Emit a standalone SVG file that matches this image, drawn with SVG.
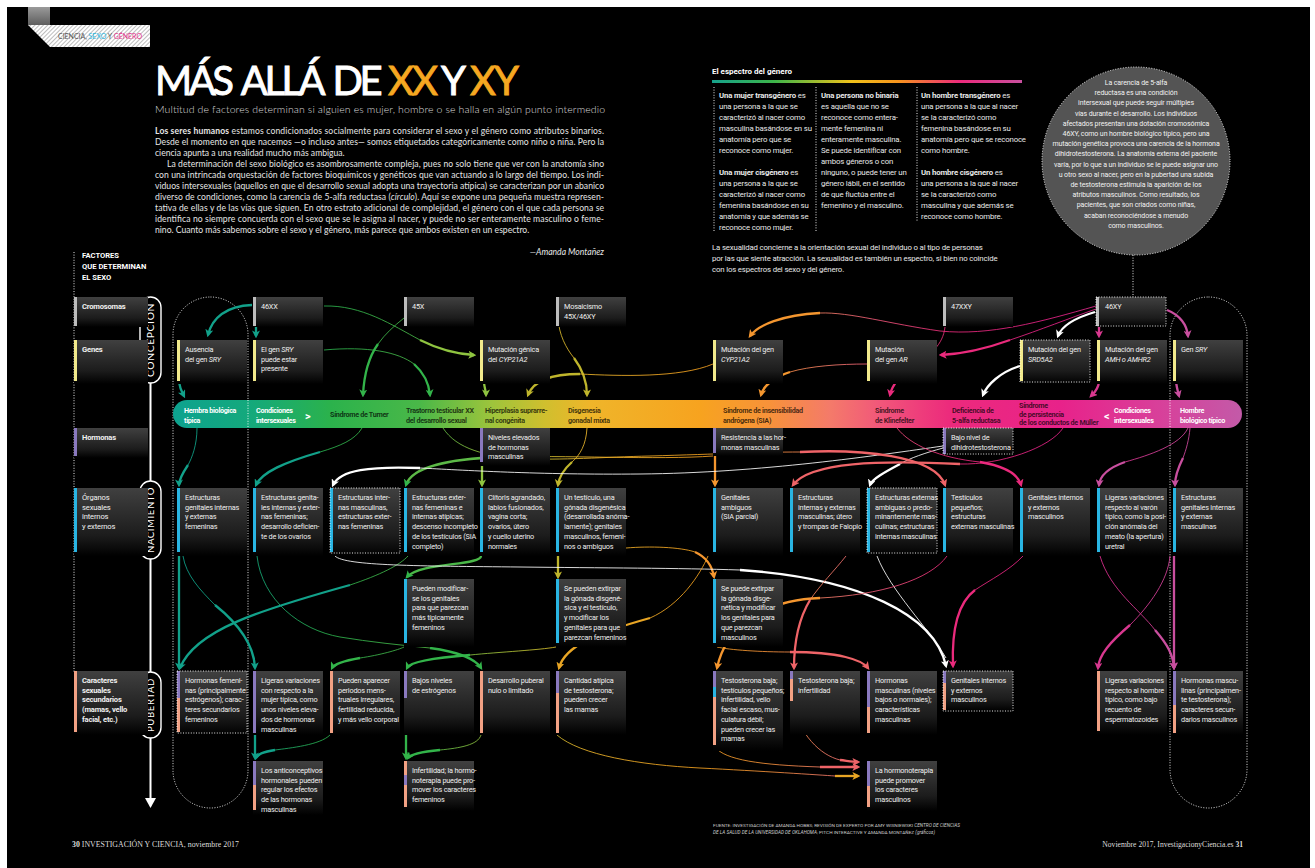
<svg xmlns="http://www.w3.org/2000/svg" width="1315" height="868" viewBox="0 0 1315 868">
<defs>
<style>
.bx{fill:url(#bx)}
.t{font-family:Roboto,"Liberation Sans",sans-serif;font-size:7.3px;fill:#eeeeee;letter-spacing:-0.2px}
.lb{font-family:Roboto,"Liberation Sans",sans-serif;font-size:7.6px;font-weight:700;fill:#f0f0f0;letter-spacing:-0.2px}
.lr{font-family:Roboto,"Liberation Sans",sans-serif;font-size:7.6px;font-weight:400;fill:#f0f0f0;letter-spacing:-0.15px}
.bt{font-family:Roboto,"Liberation Sans",sans-serif;font-size:7.2px;font-weight:700;letter-spacing:-0.3px;fill:#000;fill-opacity:0.72}
.bw{font-family:Roboto,"Liberation Sans",sans-serif;font-size:7.2px;font-weight:700;letter-spacing:-0.3px;fill:#fff}
.dot{fill:none;stroke:#fff;stroke-width:0.9;stroke-dasharray:1 1.6}
.body{font-family:Lato,"Open Sans",sans-serif;font-size:8.6px;fill:#e6e6e6}
.sp{font-family:Roboto,"Liberation Sans",sans-serif;font-size:7.8px;fill:#e8e8e8;letter-spacing:-0.15px}
.ci{font-family:Roboto,"Liberation Sans",sans-serif;font-size:7px;fill:#f2f2f2;letter-spacing:-0.1px;text-anchor:middle}
.th{fill:none;stroke:url(#spec);stroke-width:0.85}
.tw{fill:none;stroke:#ffffff;stroke-width:0.85}
.tk{fill:none;stroke-width:2.3}
.pill{fill:#000;stroke:#fff;stroke-width:1.4}
.pt{font-family:Lato,"Open Sans",sans-serif;font-size:9.5px;fill:#fff;letter-spacing:0.6px;text-anchor:middle}
.ttl{font-family:Lato,"Open Sans",sans-serif;font-size:40px;stroke-width:0.9;letter-spacing:-2px}
.ttl1{font-family:Lato,"Open Sans",sans-serif;font-size:40px;stroke-width:0.9;letter-spacing:-3.5px;word-spacing:5px}
.c-grey{fill:#bdbdbd}.c-yel{fill:#f2ea8c}.c-pur{fill:#8a79bf}.c-cy{fill:#29b5e3}.c-sal{fill:#f2a184}
</style>
<linearGradient id="bx" x1="0" y1="0" x2="0" y2="1"><stop offset="0" stop-color="#404040"/><stop offset="0.7" stop-color="#1c1c1c"/><stop offset="1" stop-color="#000"/></linearGradient>
<linearGradient id="spec" gradientUnits="userSpaceOnUse" x1="173" y1="0" x2="1242" y2="0">
<stop offset="0" stop-color="#0da28f"/><stop offset="0.072" stop-color="#14a97c"/><stop offset="0.147" stop-color="#2bb24c"/><stop offset="0.231" stop-color="#4ab848"/><stop offset="0.297" stop-color="#9cc43c"/><stop offset="0.348" stop-color="#d0bf2e"/><stop offset="0.39" stop-color="#efb52a"/><stop offset="0.493" stop-color="#f7a31f"/><stop offset="0.558" stop-color="#f7923a"/><stop offset="0.615" stop-color="#f47a6a"/><stop offset="0.661" stop-color="#f1577a"/><stop offset="0.727" stop-color="#ec2a7c"/><stop offset="0.83" stop-color="#e8228a"/><stop offset="0.923" stop-color="#d8409a"/><stop offset="1" stop-color="#c35aa8"/>
</linearGradient>
<linearGradient id="hdr" x1="0" y1="0" x2="1" y2="0"><stop offset="0" stop-color="#16a28c"/><stop offset="0.2" stop-color="#3db54a"/><stop offset="0.45" stop-color="#f0c21a"/><stop offset="0.6" stop-color="#f7941d"/><stop offset="0.8" stop-color="#ec2a7c"/><stop offset="1" stop-color="#c9509f"/></linearGradient>
<pattern id="hatch" width="3" height="3" patternUnits="userSpaceOnUse" patternTransform="rotate(45)"><rect width="3" height="3" fill="#ffffff"/><rect width="1" height="3" fill="#bdbdbd"/></pattern>
<linearGradient id="tab" x1="0" y1="0" x2="0" y2="1"><stop offset="0" stop-color="#9a9a9a"/><stop offset="1" stop-color="#5e5e5e"/></linearGradient>
<marker id="mT" viewBox="0 0 10 10" refX="7" refY="5" markerWidth="8" markerHeight="8" markerUnits="userSpaceOnUse" orient="auto"><path d="M0,0 L10,5 L0,10 L2.5,5 z" fill="#12a18a"/></marker>
<marker id="mG" viewBox="0 0 10 10" refX="7" refY="5" markerWidth="8" markerHeight="8" markerUnits="userSpaceOnUse" orient="auto"><path d="M0,0 L10,5 L0,10 L2.5,5 z" fill="#33b44a"/></marker>
<marker id="mL" viewBox="0 0 10 10" refX="7" refY="5" markerWidth="8" markerHeight="8" markerUnits="userSpaceOnUse" orient="auto"><path d="M0,0 L10,5 L0,10 L2.5,5 z" fill="#8fc440"/></marker>
<marker id="mO" viewBox="0 0 10 10" refX="7" refY="5" markerWidth="8" markerHeight="8" markerUnits="userSpaceOnUse" orient="auto"><path d="M0,0 L10,5 L0,10 L2.5,5 z" fill="#bfb52c"/></marker>
<marker id="mY" viewBox="0 0 10 10" refX="7" refY="5" markerWidth="8" markerHeight="8" markerUnits="userSpaceOnUse" orient="auto"><path d="M0,0 L10,5 L0,10 L2.5,5 z" fill="#e8a524"/></marker>
<marker id="mR" viewBox="0 0 10 10" refX="7" refY="5" markerWidth="8" markerHeight="8" markerUnits="userSpaceOnUse" orient="auto"><path d="M0,0 L10,5 L0,10 L2.5,5 z" fill="#f4962f"/></marker>
<marker id="mS" viewBox="0 0 10 10" refX="7" refY="5" markerWidth="8" markerHeight="8" markerUnits="userSpaceOnUse" orient="auto"><path d="M0,0 L10,5 L0,10 L2.5,5 z" fill="#ef6468"/></marker>
<marker id="mP" viewBox="0 0 10 10" refX="7" refY="5" markerWidth="8" markerHeight="8" markerUnits="userSpaceOnUse" orient="auto"><path d="M0,0 L10,5 L0,10 L2.5,5 z" fill="#ea2a7c"/></marker>
<marker id="mM" viewBox="0 0 10 10" refX="7" refY="5" markerWidth="8" markerHeight="8" markerUnits="userSpaceOnUse" orient="auto"><path d="M0,0 L10,5 L0,10 L2.5,5 z" fill="#d8388f"/></marker>
<marker id="mV" viewBox="0 0 10 10" refX="7" refY="5" markerWidth="8" markerHeight="8" markerUnits="userSpaceOnUse" orient="auto"><path d="M0,0 L10,5 L0,10 L2.5,5 z" fill="#c94f9f"/></marker>
<marker id="mW" viewBox="0 0 10 10" refX="7" refY="5" markerWidth="8" markerHeight="8" markerUnits="userSpaceOnUse" orient="auto"><path d="M0,0 L10,5 L0,10 L2.5,5 z" fill="#ffffff"/></marker>
</defs>

<rect width="1315" height="868" fill="#ffffff"/>
<rect x="7" y="7" width="1303" height="861" fill="#000000"/>

<g id="header-tag">
<rect x="28" y="7" width="22" height="18" fill="url(#tab)"/>
<polygon points="28,25 150,25 150,47 50,47" fill="url(#hatch)"/>
<text x="58" y="39" font-family="Lato,'Open Sans',sans-serif" font-size="6.6" fill="#555" textLength="84" lengthAdjust="spacingAndGlyphs">CIENCIA, <tspan fill="#29b6e0">SEXO</tspan> Y <tspan fill="#e6308a">GÉNERO</tspan></text>
</g>

<g id="title">
<text class="ttl1" x="155" y="95" fill="#fff" stroke="#fff">MÁS ALLÁ DE</text>
<text class="ttl" x="388" y="95" fill="#f6a821" stroke="#f6a821">XX</text>
<text class="ttl" x="441" y="95" fill="#fff" stroke="#fff">Y</text>
<text class="ttl" x="470" y="95" fill="#f6a821" stroke="#f6a821">XY</text>
<text x="155" y="113" font-family="Lato,'Open Sans',sans-serif" font-weight="300" font-size="10.5" fill="#dddddd" textLength="450" lengthAdjust="spacing">Multitud de factores determinan si alguien es mujer, hombre o se halla en algún punto intermedio</text>
</g>

<g id="intro">
<text class="body" x="155" y="134" textLength="449" lengthAdjust="spacing"><tspan font-weight="700">Los seres humanos</tspan> estamos condicionados socialmente para considerar el sexo y el género como atributos binarios.</text>
<text class="body" x="155" y="145" textLength="449" lengthAdjust="spacing">Desde el momento en que nacemos —o incluso antes— somos etiquetados categóricamente como niño o niña. Pero la</text>
<text class="body" x="155" y="156">ciencia apunta a una realidad mucho más ambigua.</text>
<text class="body" x="167" y="167" textLength="437" lengthAdjust="spacing">La determinación del sexo biológico es asombrosamente compleja, pues no solo tiene que ver con la anatomía sino</text>
<text class="body" x="155" y="178" textLength="449" lengthAdjust="spacing">con una intrincada orquestación de factores bioquímicos y genéticos que van actuando a lo largo del tiempo. Los indi-</text>
<text class="body" x="155" y="189" textLength="449" lengthAdjust="spacing">viduos intersexuales (aquellos en que el desarrollo sexual adopta una trayectoria atípica) se caracterizan por un abanico</text>
<text class="body" x="155" y="200" textLength="449" lengthAdjust="spacing">diverso de condiciones, como la carencia de 5-alfa reductasa (<tspan font-style="italic">círculo</tspan>). Aquí se expone una pequeña muestra represen-</text>
<text class="body" x="155" y="211" textLength="449" lengthAdjust="spacing">tativa de ellas y de las vías que siguen. En otro estrato adicional de complejidad, el género con el que cada persona se</text>
<text class="body" x="155" y="222" textLength="449" lengthAdjust="spacing">identifica no siempre concuerda con el sexo que se le asigna al nacer, y puede no ser enteramente masculino o feme-</text>
<text class="body" x="155" y="233">nino. Cuanto más sabemos sobre el sexo y el género, más parece que ambos existen en un espectro.</text>
<text class="body" x="604" y="255" text-anchor="end" font-style="italic">—Amanda Montañez</text>
</g>

<g id="spectrum">
<text x="712" y="74" font-family="Roboto,'Liberation Sans',sans-serif" font-size="8" font-weight="700" fill="#fff">El espectro del género</text>
<rect x="712" y="80" width="310" height="3" fill="url(#hdr)"/>
<line class="dot" x1="714" y1="87" x2="714" y2="231"/>
<line class="dot" x1="816" y1="87" x2="816" y2="231"/>
<line class="dot" x1="917" y1="87" x2="917" y2="221"/>
<text class="sp" x="719" y="98"><tspan font-weight="700">Una mujer transgénero</tspan> es</text>
<text class="sp" x="719" y="109">una persona a la que se</text>
<text class="sp" x="719" y="120">caracterizó al nacer como</text>
<text class="sp" x="719" y="131">masculina basándose en su</text>
<text class="sp" x="719" y="142">anatomía pero que se</text>
<text class="sp" x="719" y="153">reconoce como mujer.</text>
<text class="sp" x="719" y="175"><tspan font-weight="700">Una mujer cisgénero</tspan> es</text>
<text class="sp" x="719" y="186">una persona a la que se</text>
<text class="sp" x="719" y="197">caracterizó al nacer como</text>
<text class="sp" x="719" y="208">femenina basándose en su</text>
<text class="sp" x="719" y="219">anatomía y que además se</text>
<text class="sp" x="719" y="230">reconoce como mujer.</text>
<text class="sp" x="821" y="98" font-weight="700">Una persona no binaria</text>
<text class="sp" x="821" y="109">es aquella que no se</text>
<text class="sp" x="821" y="120">reconoce como entera-</text>
<text class="sp" x="821" y="131">mente femenina ni</text>
<text class="sp" x="821" y="142">enteramente masculina.</text>
<text class="sp" x="821" y="153">Se puede identificar con</text>
<text class="sp" x="821" y="164">ambos géneros o con</text>
<text class="sp" x="821" y="175">ninguno, o puede tener un</text>
<text class="sp" x="821" y="186">género lábil, en el sentido</text>
<text class="sp" x="821" y="197">de que fluctúa entre el</text>
<text class="sp" x="821" y="208">femenino y el masculino.</text>
<text class="sp" x="921" y="98"><tspan font-weight="700">Un hombre transgénero</tspan> es</text>
<text class="sp" x="921" y="109">una persona a la que al nacer</text>
<text class="sp" x="921" y="120">se la caracterizó como</text>
<text class="sp" x="921" y="131">femenina basándose en su</text>
<text class="sp" x="921" y="142">anatomía pero que se reconoce</text>
<text class="sp" x="921" y="153">como hombre.</text>
<text class="sp" x="921" y="175"><tspan font-weight="700">Un hombre cisgénero</tspan> es</text>
<text class="sp" x="921" y="186">una persona a la que al nacer</text>
<text class="sp" x="921" y="197">se la caracterizó como</text>
<text class="sp" x="921" y="208">masculina y que además se</text>
<text class="sp" x="921" y="219">reconoce como hombre.</text>
<text class="sp" x="712" y="250" fill="#d8d8d8">La sexualidad concierne a la orientación sexual del individuo o al tipo de personas</text>
<text class="sp" x="712" y="261" fill="#d8d8d8">por las que siente atracción. La sexualidad es también un espectro, si bien no coincide</text>
<text class="sp" x="712" y="272" fill="#d8d8d8">con los espectros del sexo y del género.</text>
</g>

<g id="circle-5alfa">
<circle cx="1136" cy="161" r="94" fill="#545454"/>
<circle cx="1136" cy="161" r="94" class="dot"/>
<line class="dot" x1="1133" y1="255" x2="1133" y2="297"/>
<text class="ci" x="1136" y="85">La carencia de 5-alfa</text>
<text class="ci" x="1136" y="95.2">reductasa es una condición</text>
<text class="ci" x="1136" y="105.4">intersexual que puede seguir múltiples</text>
<text class="ci" x="1136" y="115.6">vías durante el desarrollo. Los individuos</text>
<text class="ci" x="1136" y="125.8">afectados presentan una dotación cromosómica</text>
<text class="ci" x="1136" y="136">46XY, como un hombre biológico típico, pero una</text>
<text class="ci" x="1136" y="146.2">mutación genética provoca una carencia de la hormona</text>
<text class="ci" x="1136" y="156.4">dihidrotestosterona. La anatomía externa del paciente</text>
<text class="ci" x="1136" y="166.6">varía, por lo que a un individuo se le puede asignar uno</text>
<text class="ci" x="1136" y="176.8">u otro sexo al nacer, pero en la pubertad una subida</text>
<text class="ci" x="1136" y="187">de testosterona estimula la aparición de los</text>
<text class="ci" x="1136" y="197.2">atributos masculinos. Como resultado, los</text>
<text class="ci" x="1136" y="207.4">pacientes, que son criados como niñas,</text>
<text class="ci" x="1136" y="217.6">acaban reconociéndose a menudo</text>
<text class="ci" x="1136" y="227.8">como masculinos.</text>
</g>

<g id="factores">
<line class="dot" x1="74" y1="252" x2="74" y2="672"/>
<text x="82" y="258" font-family="Roboto,'Liberation Sans',sans-serif" font-size="7.6" font-weight="700" fill="#fff">FACTORES</text>
<text x="82" y="269" font-family="Roboto,'Liberation Sans',sans-serif" font-size="7.6" font-weight="700" fill="#fff">QUE DETERMINAN</text>
<text x="82" y="280" font-family="Roboto,'Liberation Sans',sans-serif" font-size="7.6" font-weight="700" fill="#fff">EL SEXO</text>
</g>

<g id="column-outlines">
<rect class="dot" x="173" y="297" width="75" height="511" rx="37.5"/>
<rect class="dot" x="1170" y="297" width="77" height="511" rx="38.5"/>
</g>

<g id="timeline">
<line x1="150.5" y1="383" x2="150.5" y2="800" stroke="#fff" stroke-width="2"/>
<polygon points="145,798 156,798 150.5,808" fill="#fff"/>
<rect class="pill" x="140" y="297" width="21" height="86" rx="10.5"/>
<text class="pt" transform="translate(154,340) rotate(-90)" textLength="74" lengthAdjust="spacingAndGlyphs">CONCEPCIÓN</text>
<rect class="pill" x="140" y="481" width="21" height="78" rx="10.5"/>
<text class="pt" transform="translate(154,520) rotate(-90)" textLength="66" lengthAdjust="spacingAndGlyphs">NACIMIENTO</text>
<rect class="pill" x="140" y="672" width="21" height="66" rx="10.5"/>
<text class="pt" transform="translate(154,705) rotate(-90)" textLength="54" lengthAdjust="spacingAndGlyphs">PUBERTAD</text>
</g>

<g id="connectors">
<path class="tk" stroke="#12a18a" marker-end="url(#mT)" d="M252 305 C226 306 212 318 208 335"/>
<path class="tk" stroke="#12a18a" marker-end="url(#mT)" d="M256 327 L256 336"/>
<path class="th" d="M324 306 C362 305 392 325 420 340"/>
<path class="tk" stroke="#8fc440" marker-end="url(#mL)" d="M420 340 C440 350 455 354 474 355"/>
<path class="th" d="M324 350 C368 346 398 352 414 364"/>
<path class="tk" stroke="#33b44a" marker-end="url(#mG)" d="M414 364 C424 373 429 384 430 395"/>
<path class="th" d="M404 318 C394 326 385 334 378 344"/>
<path class="tk" stroke="#33b44a" marker-end="url(#mG)" d="M378 344 C368 358 364 375 363 395"/>
<path class="tk" stroke="#8fc440" marker-end="url(#mL)" d="M484 381 C484 388 486 390 486 395"/>
<path class="th" d="M558 318 C559 335 566 348 574 358"/>
<path class="tk" stroke="#bfb52c" marker-end="url(#mO)" d="M574 358 C583 370 587 382 587 395"/>
<path class="th" d="M713 364 C680 378 620 376 580 374"/>
<path class="tk" stroke="#bfb52c" marker-end="url(#mO)" d="M580 374 C550 374 533 382 528 395"/>
<path class="th" d="M1096 306 C1040 322 990 336 940 331 C890 324 850 312 820 313"/>
<path class="tk" stroke="#f4962f" marker-end="url(#mR)" d="M820 313 C782 315 758 325 750 336"/>
<path class="th" d="M1096 309 C1070 318 1040 330 1010 340"/>
<path class="tk" stroke="#ea2a7c" marker-end="url(#mP)" d="M1010 340 C985 349 962 354 941 355"/>
<path class="tk" stroke="#ffffff" marker-end="url(#mW)" d="M1095 312 C1078 317 1062 325 1058 336"/>
<path class="tk" stroke="#d8388f" marker-end="url(#mM)" d="M1099 327 L1099 336"/>
<path class="tk" stroke="#c94f9f" marker-end="url(#mV)" d="M1167 310 C1180 315 1187 325 1188 336"/>
<path class="th" d="M945 327 C943 345 930 355 915 365"/>
<path class="tk" stroke="#ea2a7c" marker-end="url(#mP)" d="M915 365 C900 375 892 385 890 395"/>
<path class="th" d="M867 364 C840 364 810 366 790 372"/>
<path class="tk" stroke="#f4962f" marker-end="url(#mR)" d="M790 372 C772 378 763 387 761 395"/>
<path class="tk" stroke="#ffffff" marker-end="url(#mW)" d="M1020 366 C1000 372 987 385 983 395"/>
<path class="tk" stroke="#d8388f" marker-end="url(#mM)" d="M1099 382 C1098 390 1094 393 1091 396"/>
<path class="tk" stroke="#c94f9f" marker-end="url(#mV)" d="M1176 382 C1177 389 1178 392 1179 396"/>
<path class="tk" stroke="#12a18a" marker-end="url(#mT)" d="M179 382 C180 389 182 392 184 396"/>
<path class="th" d="M197 428 C197 445 192 458 188 465"/>
<path class="tk" stroke="#12a18a" marker-end="url(#mT)" d="M188 465 C182 474 179 480 179 485"/>
<path class="th" d="M362 428 C355 440 340 446 320 452"/>
<path class="tk" stroke="#12a18a" marker-end="url(#mT)" d="M320 452 C285 462 262 472 256 485"/>
<path class="tk" stroke="#8fc440" marker-end="url(#mL)" d="M482 463 L482 485"/>
<path class="th" d="M587 428 C586 445 580 455 572 462"/>
<path class="tk" stroke="#bfb52c" marker-end="url(#mO)" d="M572 462 C563 470 559 478 558 485"/>
<path class="tk" stroke="#f4962f" marker-end="url(#mR)" d="M715 453 L715 485"/>
<path class="th" d="M713 456 C660 460 560 455 500 457"/>
<path class="tk" stroke="#5cb947" marker-end="url(#mG)" d="M500 457 C450 459 412 466 406 485"/>
<path class="tw" d="M943 446 C880 455 760 473 640 474 C540 475 460 470 420 468"/>
<path class="tk" stroke="#ffffff" marker-end="url(#mW)" d="M420 468 C370 466 340 470 333 485"/>
<path class="tw" d="M943 448 C925 453 910 458 900 464"/>
<path class="tk" stroke="#ffffff" marker-end="url(#mW)" d="M900 464 C885 472 872 479 870 485"/>
<path class="th" d="M443 428 C470 470 560 458 650 456 C720 454 760 452 800 452"/>
<path class="tk" stroke="#ef6468" marker-end="url(#mS)" d="M800 452 C860 449 935 455 945 485"/>
<path class="th" d="M897 428 C910 445 940 458 980 462"/>
<path class="tk" stroke="#ea2a7c" marker-end="url(#mP)" d="M980 462 C1004 466 1018 474 1021 485"/>
<path class="th" d="M1063 428 C1050 448 1000 465 960 464"/>
<path class="tk" stroke="#ef6468" marker-end="url(#mS)" d="M960 464 C880 460 810 462 793 485"/>
<path class="th" d="M1190 428 C1189 440 1186 450 1183 458"/>
<path class="tk" stroke="#c94f9f" marker-end="url(#mV)" d="M1183 458 C1178 468 1175 478 1175 485"/>
<path class="th" d="M1188 428 C1180 445 1150 455 1125 462"/>
<path class="tk" stroke="#c94f9f" marker-end="url(#mV)" d="M1125 462 C1108 468 1100 476 1099 485"/>
<path class="tk" stroke="#12a18a" stroke-width="1.8" marker-end="url(#mT)" d="M179 556 L179 668"/>
<path class="th" d="M183 556 C186 575 200 590 215 605"/>
<path class="tk" stroke="#12a18a" marker-end="url(#mT)" d="M215 605 C240 625 254 645 255 668"/>
<path class="th" d="M257 556 C262 600 300 630 340 637 C370 642 400 645 430 648"/>
<path class="tk" stroke="#33b44a" marker-end="url(#mG)" d="M430 648 C460 652 476 660 481 668"/>
<path class="th" d="M408 556 C400 565 380 575 350 585"/>
<path class="tk" stroke="#12a18a" marker-end="url(#mT)" d="M350 585 C260 610 195 630 180 668"/>
<path class="tk" stroke="#4ab848" marker-end="url(#mG)" d="M481 556 C481 566 420 562 407 577"/>
<path class="tk" stroke="#bfb52c" marker-end="url(#mO)" d="M558 556 L558 577"/>
<path class="th" d="M626 548 C650 546 680 547 695 552"/>
<path class="tk" stroke="#f4962f" marker-end="url(#mR)" d="M695 552 C706 557 712 565 714 577"/>
<path class="tw" d="M335 556 C345 566 420 566 520 567 C600 568 680 568 740 570"/>
<path class="tk" stroke="#ffffff" marker-end="url(#mW)" d="M740 570 C860 578 935 615 946 666"/>
<path class="tw" d="M877 556 C890 590 930 630 946 658"/>
<path class="th" d="M1023 556 C1010 570 990 580 975 590"/>
<path class="tk" stroke="#ea2a7c" marker-end="url(#mP)" d="M975 590 C955 605 952 640 953 666"/>
<path class="th" d="M947 556 C930 580 880 595 820 598"/>
<path class="tk" stroke="#f4962f" marker-end="url(#mR)" d="M820 598 C760 600 725 630 717 668"/>
<path class="th" d="M846 556 C835 570 820 585 810 600"/>
<path class="tk" stroke="#ef6468" marker-end="url(#mS)" d="M810 600 C798 620 794 645 794 668"/>
<path class="th" d="M708 556 C700 575 680 605 650 618"/>
<path class="tk" stroke="#e8a524" marker-end="url(#mY)" d="M650 618 C600 632 565 645 559 668"/>
<path class="th" d="M717 647 C730 650 760 652 790 652"/>
<path class="tk" stroke="#ef6468" marker-end="url(#mS)" d="M790 652 C840 652 862 660 868 668"/>
<path class="th" d="M1100 556 C1110 590 1140 610 1155 630"/>
<path class="tk" stroke="#c94f9f" marker-end="url(#mV)" d="M1155 630 C1168 645 1173 655 1174 668"/>
<path class="th" d="M1170 556 C1168 580 1150 605 1130 625"/>
<path class="tk" stroke="#d8388f" marker-end="url(#mM)" d="M1130 625 C1110 642 1099 655 1098 668"/>
<path class="tk" stroke="#c94f9f" marker-end="url(#mV)" d="M1174 556 L1174 668"/>
<path class="th" d="M404 647 C398 650 380 655 360 658"/>
<path class="tk" stroke="#33b44a" marker-end="url(#mG)" d="M360 658 C343 661 334 664 332 668"/>
<path class="th" d="M556 647 C540 650 500 652 470 655"/>
<path class="tk" stroke="#33b44a" marker-end="url(#mG)" d="M470 655 C430 658 410 662 407 668"/>
<path class="tk" stroke="#12a18a" marker-end="url(#mT)" d="M255 735 L255 758"/>
<path class="th" d="M330 735 C320 745 290 748 275 750"/>
<path class="tk" stroke="#12a18a" marker-end="url(#mT)" d="M275 750 C262 752 257 755 256 758"/>
<path class="tk" stroke="#33b44a" marker-end="url(#mG)" d="M406 700 L406 758"/>
<path class="th" d="M481 735 C478 745 460 748 440 750"/>
<path class="tk" stroke="#33b44a" marker-end="url(#mG)" d="M440 750 C420 752 410 755 408 758"/>
<path class="th" d="M557 735 C580 755 640 765 700 768 C760 771 820 775 835 776"/>
<path class="tk" stroke="#e8a524" marker-end="url(#mY)" d="M835 776 L858 776"/>
<path class="th" d="M715 747 C725 760 760 765 820 767"/>
<path class="tk" stroke="#ef6468" marker-end="url(#mS)" d="M820 767 L858 767"/>
<path class="th" d="M792 703 C800 735 820 755 840 760"/>
<path class="tk" stroke="#ef6468" marker-end="url(#mS)" d="M840 760 C848 761 853 762 858 762"/>
</g>

<g id="spectrum-bar">
<rect x="173" y="400" width="1069" height="28" rx="14" fill="url(#spec)"/>
<line class="dot" x1="248" y1="400" x2="248" y2="428"/>
<line class="dot" x1="1170" y1="400" x2="1170" y2="428"/>
</g>
<g id="bar-hembra"><text class="bw" x="184" y="412.5">Hembra biológica</text><text class="bw" x="184" y="422.5">típica</text></g>
<g id="bar-intersex-l"><text class="bw" x="256" y="412.5">Condiciones</text><text class="bw" x="256" y="422.5">intersexuales</text><text x="305" y="419.5" font-family="Roboto,sans-serif" font-size="11" font-weight="700" fill="#fff">&gt;</text></g>
<g id="bar-turner"><text class="bt" x="330" y="416.5">Síndrome de Turner</text></g>
<g id="bar-trastorno"><text class="bt" x="406" y="412.5">Trastorno testicular XX</text><text class="bt" x="406" y="422.5">del desarrollo sexual</text></g>
<g id="bar-hiperplasia"><text class="bt" x="485" y="412.5">Hiperplasia suprarre-</text><text class="bt" x="485" y="422.5">nal congénita</text></g>
<g id="bar-disgenesia"><text class="bt" x="568" y="412.5">Disgenesia</text><text class="bt" x="568" y="422.5">gonadal mixta</text></g>
<g id="bar-sia"><text class="bt" x="723" y="412.5">Síndrome de insensibilidad</text><text class="bt" x="723" y="422.5">andrógena (SIA)</text></g>
<g id="bar-klinefelter"><text class="bt" x="875" y="412.5">Síndrome</text><text class="bt" x="875" y="422.5">de Klinefelter</text></g>
<g id="bar-deficiencia"><text class="bt" x="952" y="412.5">Deficiencia de</text><text class="bt" x="952" y="422.5">5-alfa reductasa</text></g>
<g id="bar-muller"><text class="bt" x="1019" y="408">Síndrome</text><text class="bt" x="1019" y="416.5">de persistencia</text><text class="bt" x="1019" y="425">de los conductos de Müller</text></g>
<g id="bar-intersex-r"><text x="1104" y="419.5" font-family="Roboto,sans-serif" font-size="11" font-weight="700" fill="#fff">&lt;</text><text class="bw" x="1114" y="412.5">Condiciones</text><text class="bw" x="1114" y="422.5">intersexuales</text></g>
<g id="bar-hombre"><text class="bw" x="1180" y="412.5">Hombre</text><text class="bw" x="1180" y="422.5">biológico típico</text></g>

<g id="lbl-cromosomas"><rect class="bx" x="74" y="297" width="74" height="30"/><rect class="c-grey" x="74" y="297" width="3" height="29"/><text class="lb" x="82" y="309">Cromosomas</text></g>
<g id="lbl-genes"><rect class="bx" x="74" y="340" width="74" height="44"/><rect class="c-yel" x="74" y="340" width="3" height="41"/><text class="lb" x="82" y="352">Genes</text></g>
<g id="lbl-hormonas"><rect class="bx" x="74" y="428" width="74" height="30"/><rect class="c-pur" x="74" y="428" width="3" height="28"/><text class="lb" x="82" y="440">Hormonas</text></g>
<g id="lbl-organos"><rect class="bx" x="74" y="488" width="74" height="68"/><rect class="c-cy" x="74" y="488" width="3" height="64"/><text class="lr" x="82" y="500"><tspan x="82">Órganos</tspan><tspan x="82" dy="9.7">sexuales</tspan><tspan x="82" dy="9.7">internos</tspan><tspan x="82" dy="9.7">y externos</tspan></text></g>
<g id="lbl-caracteres"><rect class="bx" x="74" y="671" width="74" height="64"/><rect class="c-sal" x="74" y="671" width="3" height="61"/><text class="lb" x="82" y="683"><tspan x="82">Caracteres</tspan><tspan x="82" dy="9.7">sexuales</tspan><tspan x="82" dy="9.7">secundarios</tspan><tspan x="82" dy="9.7">(mamas, vello</tspan><tspan x="82" dy="9.7">facial, etc.)</tspan></text></g>

<g id="chr-46xx"><rect class="bx" x="253" y="297" width="70" height="30"/><rect class="c-grey" x="253" y="297" width="3" height="29"/><text class="t" x="261" y="309">46XX</text></g>
<g id="chr-45x"><rect class="bx" x="404" y="297" width="70" height="30"/><rect class="c-grey" x="404" y="297" width="3" height="29"/><text class="t" x="412" y="309">45X</text></g>
<g id="chr-mosaic"><rect class="bx" x="556" y="297" width="70" height="30"/><rect class="c-grey" x="556" y="297" width="3" height="29"/><text class="t" x="564" y="309"><tspan x="564">Mosaicismo</tspan><tspan x="564" dy="9.7">45X/46XY</tspan></text></g>
<g id="chr-47xxy"><rect class="bx" x="943" y="297" width="70" height="30"/><rect class="c-grey" x="943" y="297" width="3" height="29"/><text class="t" x="951" y="309">47XXY</text></g>
<g id="chr-46xy"><rect class="bx" x="1096" y="297" width="70" height="30"/><rect class="c-grey" x="1096" y="297" width="3" height="29"/><rect class="dot" x="1096" y="297" width="70" height="29"/><text class="t" x="1105" y="309">46XY</text></g>

<g id="gen-ausencia"><rect class="bx" x="177" y="340" width="70" height="44"/><rect class="c-yel" x="177" y="340" width="3" height="41"/><text class="t" x="185" y="352"><tspan x="185">Ausencia</tspan><tspan x="185" dy="9.7">del gen <tspan font-style="italic">SRY</tspan></tspan></text></g>
<g id="gen-sry-presente"><rect class="bx" x="253" y="340" width="70" height="44"/><rect class="c-yel" x="253" y="340" width="3" height="41"/><text class="t" x="261" y="352"><tspan x="261">El gen <tspan font-style="italic">SRY</tspan></tspan><tspan x="261" dy="9.7">puede estar</tspan><tspan x="261" dy="9.7">presente</tspan></text></g>
<g id="gen-cyp-xx"><rect class="bx" x="480" y="340" width="70" height="44"/><rect class="c-yel" x="480" y="340" width="3" height="41"/><text class="t" x="488" y="352"><tspan x="488">Mutación génica</tspan><tspan x="488" dy="9.7">del <tspan font-style="italic">CYP21A2</tspan></tspan></text></g>
<g id="gen-cyp-xy"><rect class="bx" x="713" y="340" width="70" height="44"/><rect class="c-yel" x="713" y="340" width="3" height="41"/><text class="t" x="721" y="352"><tspan x="721">Mutación del gen</tspan><tspan x="721" dy="9.7" font-style="italic">CYP21A2</tspan></text></g>
<g id="gen-ar"><rect class="bx" x="867" y="340" width="70" height="44"/><rect class="c-yel" x="867" y="340" width="3" height="41"/><text class="t" x="875" y="352"><tspan x="875">Mutación</tspan><tspan x="875" dy="9.7">del gen <tspan font-style="italic">AR</tspan></tspan></text></g>
<g id="gen-srd5a2"><rect class="bx" x="1020" y="340" width="70" height="44"/><rect class="c-yel" x="1020" y="340" width="3" height="41"/><rect class="dot" x="1020" y="340" width="70" height="42"/><text class="t" x="1028" y="352"><tspan x="1028">Mutación del gen</tspan><tspan x="1028" dy="9.7" font-style="italic">SRD5A2</tspan></text></g>
<g id="gen-amh"><rect class="bx" x="1097" y="340" width="70" height="44"/><rect class="c-yel" x="1097" y="340" width="3" height="41"/><text class="t" x="1105" y="352"><tspan x="1105">Mutación del gen</tspan><tspan x="1105" dy="9.7" font-style="italic">AMH o AMHR2</tspan></text></g>
<g id="gen-sry"><rect class="bx" x="1173" y="340" width="70" height="44"/><rect class="c-yel" x="1173" y="340" width="3" height="41"/><text class="t" x="1181" y="352">Gen <tspan font-style="italic">SRY</tspan></text></g>

<g id="hor-niveles"><rect class="bx" x="480" y="428" width="70" height="38"/><rect class="c-pur" x="480" y="428" width="3" height="34"/><text class="t" x="488" y="440"><tspan x="488">Niveles elevados</tspan><tspan x="488" dy="9.7">de hormonas</tspan><tspan x="488" dy="9.7">masculinas</tspan></text></g>
<g id="hor-resistencia"><rect class="bx" x="713" y="428" width="70" height="28"/><rect class="c-pur" x="713" y="428" width="3" height="25"/><text class="t" x="721" y="440"><tspan x="721">Resistencia a las hor-</tspan><tspan x="721" dy="9.7">monas masculinas</tspan></text></g>
<g id="hor-bajo"><rect class="bx" x="943" y="428" width="70" height="26"/><rect class="c-pur" x="943" y="428" width="3" height="26"/><rect class="dot" x="943" y="428" width="70" height="26"/><text class="t" x="951" y="440"><tspan x="951">Bajo nivel de</tspan><tspan x="951" dy="9.7">dihidrotestosterona</tspan></text></g>

<g id="org-0"><rect class="bx" x="177" y="488" width="70" height="68"/><rect class="c-cy" x="177" y="488" width="3" height="64"/><text class="t" x="185" y="500"><tspan x="185">Estructuras</tspan><tspan x="185" dy="9.7">genitales internas</tspan><tspan x="185" dy="9.7">y externas</tspan><tspan x="185" dy="9.7">femeninas</tspan></text></g>
<g id="org-1"><rect class="bx" x="253" y="488" width="70" height="68"/><rect class="c-cy" x="253" y="488" width="3" height="64"/><text class="t" x="261" y="500"><tspan x="261">Estructuras genita-</tspan><tspan x="261" dy="9.7">les internas y exter-</tspan><tspan x="261" dy="9.7">nas femeninas;</tspan><tspan x="261" dy="9.7">desarrollo deficien-</tspan><tspan x="261" dy="9.7">te de los ovarios</tspan></text></g>
<g id="org-2"><rect class="bx" x="330" y="488" width="70" height="68"/><rect class="c-cy" x="330" y="488" width="3" height="64"/><rect class="dot" x="330" y="488" width="70" height="65"/><text class="t" x="338" y="500"><tspan x="338">Estructuras inter-</tspan><tspan x="338" dy="9.7">nas masculinas,</tspan><tspan x="338" dy="9.7">estructuras exter-</tspan><tspan x="338" dy="9.7">nas femeninas</tspan></text></g>
<g id="org-3"><rect class="bx" x="404" y="488" width="70" height="68"/><rect class="c-cy" x="404" y="488" width="3" height="64"/><text class="t" x="412" y="500"><tspan x="412">Estructuras exter-</tspan><tspan x="412" dy="9.7">nas femeninas e</tspan><tspan x="412" dy="9.7">internas atípicas;</tspan><tspan x="412" dy="9.7">descenso incompleto</tspan><tspan x="412" dy="9.7">de los testículos (SIA</tspan><tspan x="412" dy="9.7">completo)</tspan></text></g>
<g id="org-4"><rect class="bx" x="480" y="488" width="70" height="68"/><rect class="c-cy" x="480" y="488" width="3" height="64"/><text class="t" x="488" y="500"><tspan x="488">Clítoris agrandado,</tspan><tspan x="488" dy="9.7">labios fusionados,</tspan><tspan x="488" dy="9.7">vagina corta;</tspan><tspan x="488" dy="9.7">ovarios, útero</tspan><tspan x="488" dy="9.7">y cuello uterino</tspan><tspan x="488" dy="9.7">normales</tspan></text></g>
<g id="org-5"><rect class="bx" x="556" y="488" width="70" height="68"/><rect class="c-cy" x="556" y="488" width="3" height="64"/><text class="t" x="564" y="500"><tspan x="564">Un testículo, una</tspan><tspan x="564" dy="9.7">gónada disgenésica</tspan><tspan x="564" dy="9.7">(desarrollada anóma-</tspan><tspan x="564" dy="9.7">lamente); genitales</tspan><tspan x="564" dy="9.7">masculinos, femeni-</tspan><tspan x="564" dy="9.7">nos o ambiguos</tspan></text></g>
<g id="org-7"><rect class="bx" x="713" y="488" width="70" height="68"/><rect class="c-cy" x="713" y="488" width="3" height="64"/><text class="t" x="721" y="500"><tspan x="721">Genitales</tspan><tspan x="721" dy="9.7">ambiguos</tspan><tspan x="721" dy="9.7">(SIA parcial)</tspan></text></g>
<g id="org-8"><rect class="bx" x="790" y="488" width="70" height="68"/><rect class="c-cy" x="790" y="488" width="3" height="64"/><text class="t" x="798" y="500"><tspan x="798">Estructuras</tspan><tspan x="798" dy="9.7">internas y externas</tspan><tspan x="798" dy="9.7">masculinas; útero</tspan><tspan x="798" dy="9.7">y trompas de Falopio</tspan></text></g>
<g id="org-9"><rect class="bx" x="867" y="488" width="70" height="68"/><rect class="c-cy" x="867" y="488" width="3" height="64"/><rect class="dot" x="867" y="488" width="70" height="65"/><text class="t" x="875" y="500"><tspan x="875">Estructuras externas</tspan><tspan x="875" dy="9.7">ambiguas o predo-</tspan><tspan x="875" dy="9.7">minantemente mas-</tspan><tspan x="875" dy="9.7">culinas; estructuras</tspan><tspan x="875" dy="9.7">internas masculinas</tspan></text></g>
<g id="org-10"><rect class="bx" x="943" y="488" width="70" height="68"/><rect class="c-cy" x="943" y="488" width="3" height="64"/><text class="t" x="951" y="500"><tspan x="951">Testículos</tspan><tspan x="951" dy="9.7">pequeños;</tspan><tspan x="951" dy="9.7">estructuras</tspan><tspan x="951" dy="9.7">externas masculinas</tspan></text></g>
<g id="org-11"><rect class="bx" x="1020" y="488" width="70" height="68"/><rect class="c-cy" x="1020" y="488" width="3" height="64"/><text class="t" x="1028" y="500"><tspan x="1028">Genitales internos</tspan><tspan x="1028" dy="9.7">y externos</tspan><tspan x="1028" dy="9.7">masculinos</tspan></text></g>
<g id="org-12"><rect class="bx" x="1097" y="488" width="70" height="68"/><rect class="c-cy" x="1097" y="488" width="3" height="64"/><text class="t" x="1105" y="500"><tspan x="1105">Ligeras variaciones</tspan><tspan x="1105" dy="9.7">respecto al varón</tspan><tspan x="1105" dy="9.7">típico, como la posi-</tspan><tspan x="1105" dy="9.7">ción anómala del</tspan><tspan x="1105" dy="9.7">meato (la apertura)</tspan><tspan x="1105" dy="9.7">uretral</tspan></text></g>
<g id="org-13"><rect class="bx" x="1173" y="488" width="70" height="68"/><rect class="c-cy" x="1173" y="488" width="3" height="64"/><text class="t" x="1181" y="500"><tspan x="1181">Estructuras</tspan><tspan x="1181" dy="9.7">genitales internas</tspan><tspan x="1181" dy="9.7">y externas</tspan><tspan x="1181" dy="9.7">masculinas</tspan></text></g>

<g id="tra-3"><rect class="bx" x="404" y="579" width="70" height="68"/><rect class="c-cy" x="404" y="579" width="3" height="64"/><text class="t" x="412" y="591"><tspan x="412">Pueden modificar-</tspan><tspan x="412" dy="9.7">se los genitales</tspan><tspan x="412" dy="9.7">para que parezcan</tspan><tspan x="412" dy="9.7">más típicamente</tspan><tspan x="412" dy="9.7">femeninos</tspan></text></g>
<g id="tra-5"><rect class="bx" x="556" y="579" width="70" height="68"/><rect class="c-cy" x="556" y="579" width="3" height="64"/><text class="t" x="564" y="591"><tspan x="564">Se pueden extirpar</tspan><tspan x="564" dy="9.7">la gónada disgené-</tspan><tspan x="564" dy="9.7">sica y el testículo,</tspan><tspan x="564" dy="9.7">y modificar los</tspan><tspan x="564" dy="9.7">genitales para que</tspan><tspan x="564" dy="9.7">parezcan femeninos</tspan></text></g>
<g id="tra-7"><rect class="bx" x="713" y="579" width="70" height="68"/><rect class="c-cy" x="713" y="579" width="3" height="64"/><text class="t" x="721" y="591"><tspan x="721">Se puede extirpar</tspan><tspan x="721" dy="9.7">la gónada disge-</tspan><tspan x="721" dy="9.7">nética y modificar</tspan><tspan x="721" dy="9.7">los genitales para</tspan><tspan x="721" dy="9.7">que parezcan</tspan><tspan x="721" dy="9.7">masculinos</tspan></text></g>

<g id="pub-0"><rect class="bx" x="177" y="671" width="70" height="64"/><rect class="c-pur" x="177" y="671" width="3" height="27"/><rect class="c-sal" x="177" y="698" width="3" height="34"/><rect class="dot" x="177" y="671" width="70" height="62"/><text class="t" x="185" y="683"><tspan x="185">Hormonas femeni-</tspan><tspan x="185" dy="9.7">nas (principalmente</tspan><tspan x="185" dy="9.7">estrógenos); carac-</tspan><tspan x="185" dy="9.7">teres secundarios</tspan><tspan x="185" dy="9.7">femeninos</tspan></text></g>
<g id="pub-1"><rect class="bx" x="253" y="671" width="70" height="64"/><rect class="c-pur" x="253" y="671" width="3" height="62"/><text class="t" x="261" y="683"><tspan x="261">Ligeras variaciones</tspan><tspan x="261" dy="9.7">con respecto a la</tspan><tspan x="261" dy="9.7">mujer típica, como</tspan><tspan x="261" dy="9.7">unos niveles eleva-</tspan><tspan x="261" dy="9.7">dos de hormonas</tspan><tspan x="261" dy="9.7">masculinas</tspan></text></g>
<g id="pub-2"><rect class="bx" x="330" y="671" width="70" height="64"/><rect class="c-sal" x="330" y="671" width="3" height="62"/><text class="t" x="338" y="683"><tspan x="338">Pueden aparecer</tspan><tspan x="338" dy="9.7">periodos mens-</tspan><tspan x="338" dy="9.7">truales irregulares,</tspan><tspan x="338" dy="9.7">fertilidad reducida,</tspan><tspan x="338" dy="9.7">y más vello corporal</tspan></text></g>
<g id="pub-3"><rect class="bx" x="404" y="671" width="70" height="64"/><rect class="c-pur" x="404" y="671" width="3" height="27"/><text class="t" x="412" y="683"><tspan x="412">Bajos niveles</tspan><tspan x="412" dy="9.7">de estrógenos</tspan></text></g>
<g id="pub-4"><rect class="bx" x="480" y="671" width="70" height="64"/><rect class="c-sal" x="480" y="671" width="3" height="62"/><text class="t" x="488" y="683"><tspan x="488">Desarrollo puberal</tspan><tspan x="488" dy="9.7">nulo o limitado</tspan></text></g>
<g id="pub-5"><rect class="bx" x="556" y="671" width="70" height="64"/><rect class="c-pur" x="556" y="671" width="3" height="22"/><rect class="c-sal" x="556" y="693" width="3" height="40"/><text class="t" x="564" y="683"><tspan x="564">Cantidad atípica</tspan><tspan x="564" dy="9.7">de testosterona;</tspan><tspan x="564" dy="9.7">pueden crecer</tspan><tspan x="564" dy="9.7">las mamas</tspan></text></g>
<g id="pub-7"><rect class="bx" x="713" y="671" width="70" height="80"/><rect class="c-pur" x="713" y="671" width="3" height="16"/><rect class="c-cy" x="713" y="687" width="3" height="10"/><rect class="c-sal" x="713" y="697" width="3" height="48"/><text class="t" x="721" y="683"><tspan x="721">Testosterona baja;</tspan><tspan x="721" dy="9.7">testículos pequeños;</tspan><tspan x="721" dy="9.7">infertilidad, vello</tspan><tspan x="721" dy="9.7">facial escaso, mus-</tspan><tspan x="721" dy="9.7">culatura débil;</tspan><tspan x="721" dy="9.7">pueden crecer las</tspan><tspan x="721" dy="9.7">mamas</tspan></text></g>
<g id="pub-8"><rect class="bx" x="790" y="671" width="70" height="64"/><rect class="c-pur" x="790" y="671" width="3" height="8"/><rect class="c-sal" x="790" y="679" width="3" height="22"/><text class="t" x="798" y="683"><tspan x="798">Testosterona baja;</tspan><tspan x="798" dy="9.7">infertilidad</tspan></text></g>
<g id="pub-9"><rect class="bx" x="867" y="671" width="70" height="64"/><rect class="c-pur" x="867" y="671" width="3" height="36"/><rect class="c-sal" x="867" y="707" width="3" height="26"/><text class="t" x="875" y="683"><tspan x="875">Hormonas</tspan><tspan x="875" dy="9.7">masculinas (niveles</tspan><tspan x="875" dy="9.7">bajos o normales);</tspan><tspan x="875" dy="9.7">características</tspan><tspan x="875" dy="9.7">masculinas</tspan></text></g>
<g id="pub-10"><rect class="bx" x="943" y="671" width="70" height="40"/><rect class="c-pur" x="943" y="671" width="3" height="12"/><rect class="c-sal" x="943" y="683" width="3" height="27"/><rect class="dot" x="943" y="671" width="70" height="40"/><text class="t" x="951" y="683"><tspan x="951">Genitales internos</tspan><tspan x="951" dy="9.7">y externos</tspan><tspan x="951" dy="9.7">masculinos</tspan></text></g>
<g id="pub-12"><rect class="bx" x="1097" y="671" width="70" height="64"/><rect class="c-sal" x="1097" y="671" width="3" height="60"/><text class="t" x="1105" y="683"><tspan x="1105">Ligeras variaciones</tspan><tspan x="1105" dy="9.7">respecto al hombre</tspan><tspan x="1105" dy="9.7">típico, como bajo</tspan><tspan x="1105" dy="9.7">recuento de</tspan><tspan x="1105" dy="9.7">espermatozoides</tspan></text></g>
<g id="pub-13"><rect class="bx" x="1173" y="671" width="70" height="64"/><rect class="c-pur" x="1173" y="671" width="3" height="34"/><rect class="c-sal" x="1173" y="705" width="3" height="28"/><text class="t" x="1181" y="683"><tspan x="1181">Hormonas mascu-</tspan><tspan x="1181" dy="9.7">linas (principalmen-</tspan><tspan x="1181" dy="9.7">te testosterona);</tspan><tspan x="1181" dy="9.7">caracteres secun-</tspan><tspan x="1181" dy="9.7">darios masculinos</tspan></text></g>

<g id="fin-1"><rect class="bx" x="253" y="761" width="70" height="54"/><rect class="c-pur" x="253" y="761" width="3" height="24"/><rect class="c-sal" x="253" y="785" width="3" height="25"/><text class="t" x="261" y="773"><tspan x="261">Los anticonceptivos</tspan><tspan x="261" dy="9.7">hormonales pueden</tspan><tspan x="261" dy="9.7">regular los efectos</tspan><tspan x="261" dy="9.7">de las hormonas</tspan><tspan x="261" dy="9.7">masculinas</tspan></text></g>
<g id="fin-3"><rect class="bx" x="404" y="761" width="70" height="50"/><rect class="c-sal" x="404" y="761" width="3" height="14"/><rect class="c-pur" x="404" y="775" width="3" height="10"/><rect class="c-sal" x="404" y="785" width="3" height="22"/><text class="t" x="412" y="773"><tspan x="412">Infertilidad; la hormo-</tspan><tspan x="412" dy="9.7">noterapia puede pro-</tspan><tspan x="412" dy="9.7">mover los caracteres</tspan><tspan x="412" dy="9.7">femeninos</tspan></text></g>
<g id="fin-9"><rect class="bx" x="867" y="761" width="70" height="50"/><rect class="c-pur" x="867" y="761" width="3" height="25"/><rect class="c-sal" x="867" y="786" width="3" height="21"/><text class="t" x="875" y="773"><tspan x="875">La hormonoterapia</tspan><tspan x="875" dy="9.7">puede promover</tspan><tspan x="875" dy="9.7">los caracteres</tspan><tspan x="875" dy="9.7">masculinos</tspan></text></g>

<g id="source">
<text x="713" y="827" font-family="Roboto,'Liberation Sans',sans-serif" font-size="4.4" fill="#cccccc" textLength="247" lengthAdjust="spacingAndGlyphs">FUENTE: INVESTIGACIÓN DE AMANDA HOBBS; REVISIÓN DE EXPERTO POR AMY WISNIEWSKI <tspan font-style="italic">CENTRO DE CIENCIAS</tspan></text>
<text x="713" y="834" font-family="Roboto,'Liberation Sans',sans-serif" font-size="4.4" fill="#cccccc" textLength="222" lengthAdjust="spacingAndGlyphs"><tspan font-style="italic">DE LA SALUD DE LA UNIVERSIDAD DE OKLAHOMA</tspan>; PITCH INTERACTIVE Y AMANDA MONTAÑEZ <tspan font-style="italic">(gráficos)</tspan></text>
</g>

<g id="footer">
<text x="72" y="847" font-family="'Liberation Serif',serif" font-size="7.6" fill="#dddddd" textLength="167" lengthAdjust="spacingAndGlyphs"><tspan font-weight="700">30</tspan> INVESTIGACIÓN Y CIENCIA, noviembre 2017</text>
<text x="1243" y="847" text-anchor="end" font-family="'Liberation Serif',serif" font-size="7.6" fill="#dddddd">Noviembre 2017, InvestigacionyCiencia.es <tspan font-weight="700">31</tspan></text>
</g>
</svg>
